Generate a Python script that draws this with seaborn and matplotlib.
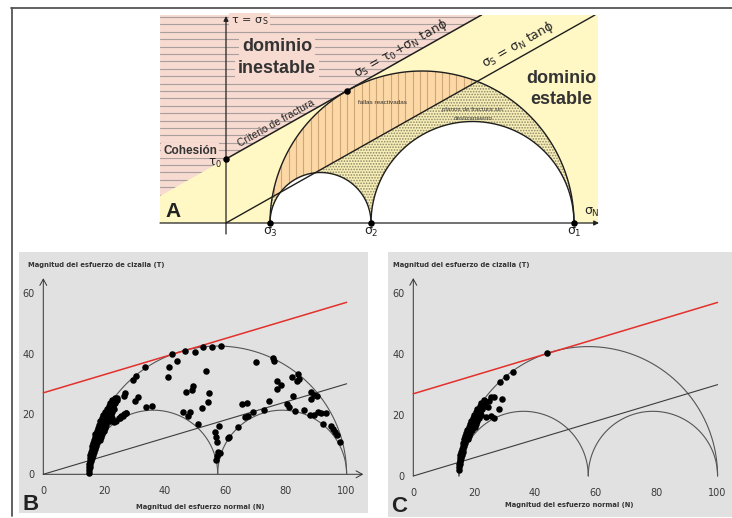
import numpy as np
import matplotlib
matplotlib.use("Agg")
import matplotlib.pyplot as plt
import seaborn as sns
from matplotlib.patches import Polygon, Rectangle
from matplotlib.lines import Line2D

# ---------------- data ----------------
# Schematic Mohr diagram (panel A), arbitrary stress units
sigmas_A = [44, 145, 348]          # sigma3, sigma2, sigma1
cohesion_A = 64                    # tau0

# Stress state used in panels B and C
sigmas_BC = [15, 57.5, 100]        # sigma3, sigma2, sigma1
cohesion_BC = 27                   # intercept of the fracture criterion
friction_BC = 0.3                  # tan(phi)

x_major = [0, 20, 40, 60, 80, 100]
x_minor = [10, 30, 50, 70, 90]
y_major = [0, 20, 40, 60]
y_minor = [10, 30, 50]

# normalised (sigma_N, tau) of every fault plane, panel B
b_cluster = [(15.0, 0.5), (15.1, 1.5), (15.15, 2.5), (15.4, 2.5), (15.2, 3.5), (15.5, 3.5),
             (15.3, 4.5), (15.7, 4.5), (15.4, 5.5), (15.9, 5.5), (15.5, 6.5), (16.0, 6.5),
             (16.5, 6.5), (15.7, 7.5), (16.3, 7.5), (16.8, 7.5), (15.9, 8.5), (16.5, 8.5),
             (17.1, 8.5), (16.1, 9.5), (16.7, 9.5), (17.4, 9.5), (16.3, 10.5), (17.0, 10.5),
             (17.7, 10.5), (16.6, 11.5), (17.3, 11.5), (18.0, 11.5), (18.6, 11.5), (16.9, 12.5),
             (17.6, 12.5), (18.3, 12.5), (19.0, 12.5), (17.2, 13.5), (17.9, 13.5), (18.7, 13.5),
             (19.4, 13.5), (17.6, 14.5), (18.3, 14.5), (19.1, 14.5), (19.9, 14.5), (18.0, 15.5),
             (18.7, 15.5), (19.5, 15.5), (20.3, 15.5), (18.4, 16.5), (19.2, 16.5), (20.0, 16.5),
             (20.8, 16.5), (18.8, 17.5), (19.6, 17.5), (20.4, 17.5), (21.2, 17.5), (22.0, 17.5),
             (19.3, 18.5), (20.1, 18.5), (20.9, 18.5), (21.7, 18.5), (22.5, 18.5), (19.8, 19.5),
             (20.6, 19.5), (21.4, 19.5), (22.2, 19.5), (20.3, 20.5), (21.1, 20.5), (21.9, 20.5),
             (22.7, 20.5), (20.9, 21.5), (21.7, 21.5), (22.5, 21.5), (23.3, 21.5), (21.5, 22.5),
             (22.3, 22.5), (23.1, 22.5), (22.1, 23.5), (22.9, 23.5), (23.7, 23.5), (22.8, 24.5),
             (23.6, 24.5), (24.4, 24.5), (23.5, 25.3), (24.3, 25.3),
             (23.2, 17.3), (24.0, 17.8), (24.8, 18.6), (25.6, 19.2), (26.5, 19.9), (27.3, 20.4)]
b_scatter = [(26.9, 27.1), (26.7, 26.0), (27.3, 20.2), (26.2, 19.3), (25.3, 18.6), (29.5, 31.3),
             (30.5, 32.6), (33.5, 35.5), (31.3, 25.7), (30.2, 24.4), (33.7, 22.2), (36.0, 22.7),
             (42.4, 39.9), (41.5, 35.5), (41.2, 32.2), (44.1, 37.7), (46.7, 41.0), (50.0, 40.7),
             (52.5, 42.1), (55.7, 42.3), (58.5, 42.5), (53.6, 34.3), (49.2, 29.3), (48.9, 28.0),
             (47.2, 27.4), (54.7, 26.9), (54.4, 23.8), (52.2, 22.0), (48.5, 20.8), (46.2, 20.6),
             (47.6, 19.4), (51.1, 16.7), (58.0, 16.1), (56.6, 14.1), (56.9, 12.5), (57.4, 10.8),
             (57.7, 7.5), (58.3, 6.9), (57.4, 6.0), (56.9, 4.8), (61.0, 11.9), (61.2, 12.5),
             (64.3, 15.6), (66.5, 18.9), (67.6, 19.3), (65.4, 23.3), (67.1, 23.7), (69.2, 20.7),
             (72.8, 21.3), (74.4, 24.4), (70.1, 37.3), (75.8, 38.4), (75.9, 37.7), (77.1, 30.9),
             (78.3, 29.6), (77.2, 28.2), (81.9, 32.4), (83.9, 33.1), (84.3, 31.7), (83.7, 31.0),
             (82.2, 26.1), (80.4, 23.3), (81.1, 22.3), (83.0, 21.1), (86.0, 21.3), (88.3, 27.4),
             (89.4, 26.3), (90.1, 26.1), (88.2, 24.8), (87.9, 19.7), (89.4, 19.7), (90.7, 20.8),
             (91.5, 20.2), (93.2, 20.4), (92.3, 16.7), (94.9, 16.0), (95.6, 14.9), (96.2, 14.1),
             (96.7, 13.0), (97.8, 10.8)]

# panel C: only the planes that reach the fracture envelope side
c_cluster = [(14.9, 2.0), (15.0, 3.0), (15.1, 4.0), (15.3, 4.0), (15.2, 5.0), (15.5, 5.0),
             (15.3, 6.0), (15.7, 6.0), (15.5, 7.0), (16.0, 7.0), (15.7, 8.0), (16.3, 8.0),
             (15.9, 9.0), (16.5, 9.0), (16.2, 10.0), (16.8, 10.0), (16.4, 11.0), (17.1, 11.0),
             (16.7, 12.0), (17.4, 12.0), (18.0, 12.0), (17.0, 13.0), (17.7, 13.0), (18.4, 13.0),
             (17.4, 14.0), (18.1, 14.0), (18.8, 14.0), (17.8, 15.0), (18.5, 15.0), (19.2, 15.0),
             (18.2, 16.0), (18.9, 16.0), (19.6, 16.0), (20.3, 16.0), (18.6, 17.0), (19.3, 17.0),
             (20.0, 17.0), (20.7, 17.0), (19.0, 18.0), (19.7, 18.0), (20.4, 18.0), (21.1, 18.0),
             (19.5, 19.0), (20.2, 19.0), (20.9, 19.0), (21.6, 19.0), (20.0, 20.0), (20.7, 20.0),
             (21.4, 20.0), (22.1, 20.0), (20.6, 21.0), (21.3, 21.0), (22.0, 21.0), (21.1, 22.0),
             (21.8, 22.0), (22.5, 22.0), (21.8, 23.0), (22.6, 23.0), (22.4, 24.0), (23.2, 24.0),
             (23.5, 24.4), (23.1, 25.0)]
c_scatter = [(44.1, 40.3), (32.9, 34.2), (30.4, 32.6), (28.5, 30.8), (29.0, 25.2), (28.3, 21.9),
             (26.5, 18.9), (25.7, 19.8), (26.5, 26.1), (25.4, 26.1), (24.6, 22.8), (23.5, 23.0),
             (24.0, 19.5), (25.0, 24.5)]

# ---------------- style ----------------
sns.set_style("white")
plt.rcParams["font.family"] = ["DejaVu Sans"]
plt.rcParams["mathtext.fontset"] = "custom"
plt.rcParams["mathtext.rm"] = "DejaVu Sans"
plt.rcParams["mathtext.it"] = "DejaVu Sans"
plt.rcParams["mathtext.bf"] = "DejaVu Sans:bold"
plt.rcParams["hatch.linewidth"] = 0.8

W, H = 732, 518
fig = plt.figure(figsize=(W / 100, H / 100), dpi=100)
fig.patch.set_facecolor("white")


def frac_box(x0, y0, x1, y1):
    """pixel box (top-left / bottom-right) -> figure fraction rect"""
    return [x0 / W, 1 - y1 / H, (x1 - x0) / W, (y1 - y0) / H]


def upper_arc(a, b, start=np.pi, stop=0.0, n=240):
    c, r = (a + b) / 2, (b - a) / 2
    th = np.linspace(start, stop, n)
    return c + r * np.cos(th), r * np.sin(th)


def arc_height(a, b, x):
    c, r = (a + b) / 2, (b - a) / 2
    return np.sqrt(np.clip(r ** 2 - (x - c) ** 2, 0, None))


# frame lines of the composite
fig.add_artist(Line2D([11 / W, 1], [1 - 8 / H] * 2, transform=fig.transFigure,
                      color="#555555", lw=1.3))
fig.add_artist(Line2D([12 / W] * 2, [1 - 8 / H, 1 - 516 / H], transform=fig.transFigure,
                      color="#555555", lw=1.3))

# ================= panel A =================
axA = fig.add_axes(frac_box(158, 15, 600, 240))
axA.set_xlim(-68, 374)
axA.set_ylim(-17, 208)
axA.axis("off")

s3, s2, s1 = sigmas_A
t0 = cohesion_A
cA, rA = (s1 + s3) / 2, (s1 - s3) / 2
qa = cA ** 2 - rA ** 2
m = (-t0 * cA + np.sqrt((t0 * cA) ** 2 - qa * (t0 ** 2 - rA ** 2))) / qa
phi = np.arctan(m)
ang = np.degrees(phi)
st, tt = cA - rA * np.sin(phi), rA * np.cos(phi)

XL, XR, YT = -66, 372, 208
PINK, YELLOW, ORANGE = "#f7dad0", "#fff7c4", "#fbd8a6"

axA.add_patch(Rectangle((XL, 0), XR - XL, YT, facecolor=YELLOW, lw=0, zorder=0))
x_top = (YT - t0) / m
pink = Polygon([(XL, t0 + m * XL), (XL, YT), (x_top, YT)], closed=True,
               facecolor=PINK, lw=0, zorder=1)
axA.add_patch(pink)
for yy in np.arange(206, 0, -7.4):
    ln, = axA.plot([XL, XR], [yy, yy], color="#a9a09d", lw=0.8, zorder=1.5)
    ln.set_clip_path(pink)

# region enclosed by the three circles
bx, by = upper_arc(s3, s1)
sx2, sy2 = upper_arc(s2, s1, 0.0, np.pi)
sx1, sy1 = upper_arc(s3, s2, 0.0, np.pi)
region = np.column_stack([np.r_[bx, sx2, sx1], np.r_[by, sy2, sy1]])
dotted = Polygon(region, closed=True, facecolor="#f8efb8", edgecolor="#8c8666",
                 hatch="......", lw=0, zorder=2)
axA.add_patch(dotted)
orange = Polygon(region, closed=True, facecolor=ORANGE, lw=0, zorder=2.1)
axA.add_patch(orange)
above = Polygon([(-70, -70 * m), (380, 380 * m), (380, 400), (-70, 400)], closed=True,
                transform=axA.transData)
orange.set_clip_path(above)
for xv in np.arange(s3 + 4, s1, 7.3):
    top = arc_height(s3, s1, xv)
    low = max(m * xv, arc_height(s3, s2, xv) if xv <= s2 else arc_height(s2, s1, xv))
    if top > low:
        axA.plot([xv, xv], [low, top], color="#cfa676", lw=0.8, zorder=2.2)

for a, b in [(s3, s2), (s2, s1)]:
    xx, yy = upper_arc(a, b)
    axA.fill_between(xx, 0, yy, color="white", lw=0, zorder=2.5)
    axA.plot(xx, yy, color="#1e1e1e", lw=1.0, zorder=3)
axA.plot(bx, by, color="#1e1e1e", lw=1.0, zorder=3)

axA.plot([0, x_top], [t0, YT], color="#1e1e1e", lw=1.1, zorder=3.2)
x_end = min(XR, YT / m)
axA.plot([0, x_end], [0, m * x_end], color="#1e1e1e", lw=1.0, zorder=3.2)

arrow_kw = dict(arrowstyle="-|>", lw=0.9, color="#222222", mutation_scale=7,
                shrinkA=0, shrinkB=0)
axA.annotate("", xy=(XR + 1, 0), xytext=(XL, 0), arrowprops=arrow_kw, zorder=4)
axA.annotate("", xy=(0, 207), xytext=(0, -11), arrowprops=arrow_kw, zorder=4)

dots_A = [(0, t0), (st, tt), (s3, 0), (s2, 0), (s1, 0)]
sns.scatterplot(x=[p[0] for p in dots_A], y=[p[1] for p in dots_A], ax=axA,
                color="black", s=22, linewidth=0, zorder=5)

lib = ["Liberation Sans", "DejaVu Sans"]
pink_box = dict(boxstyle="square,pad=0.15", facecolor=PINK, lw=0)
for txt, y in [("dominio", 176.3), ("inestable", 154.7)]:
    axA.text(51, y, txt, family=lib, weight="bold", fontsize=13, color="#333333",
             ha="center", va="center", bbox=pink_box, zorder=6)
for txt, y in [("dominio", 144.7), ("estable", 124.0)]:
    axA.text(335, y, txt, family=lib, weight="bold", fontsize=13, color="#333333",
             ha="center", va="center", zorder=6)
axA.text(-36, 72.3, "Cohesión", family=lib, weight="bold", fontsize=8.5, color="#333333",
         ha="center", va="center", bbox=pink_box, zorder=6)
axA.text(-4, 60, r"$\tau_0$", fontsize=8.5, color="#222222", ha="right", va="center", zorder=6)
axA.text(5, 202.3, r"$\tau\,=\,\sigma_S$", fontsize=8, color="#222222", ha="left",
         va="center", bbox=pink_box, zorder=6)
axA.text(157, 120.3, "fallas reactivadas", family=lib, fontsize=4.6, color="#333333",
         ha="center", va="center", zorder=6)
axA.text(246, 113, "planos de fractura sin", family=lib, fontsize=4.6, color="#444444",
         ha="center", va="center", zorder=6)
axA.text(247, 104.7, "deslizamiento", family=lib, fontsize=4.6, color="#444444",
         ha="center", va="center", zorder=6)
axA.text(-61, 2, "A", family=lib, weight="bold", fontsize=15, color="#222222",
         ha="left", va="bottom", zorder=6)
for sv, lab in zip(sigmas_A, [r"$\sigma_3$", r"$\sigma_2$", r"$\sigma_1$"]):
    axA.text(sv, -3, lab, fontsize=9, color="#222222", ha="center", va="top", zorder=6)
axA.text(366, 4, r"$\sigma_N$", fontsize=9, color="#222222", ha="center", va="bottom", zorder=6)


def along(x, t_int, d):
    y = t_int + m * x
    return x - d * np.sin(phi), y + d * np.cos(phi)


px_, py_ = along(180, t0, 2)
axA.text(px_, py_, r"$\sigma_S$ = $\tau_0\!+\!\sigma_N$ tan$\phi$", fontsize=9,
         color="#222222", rotation=ang, rotation_mode="anchor", ha="center", va="bottom", zorder=6)
px_, py_ = along(53, t0, 1.5)
axA.text(px_, py_, "Criterio de fractura", family=lib, fontsize=7.5, color="#222222",
         rotation=ang, rotation_mode="anchor", ha="center", va="bottom", zorder=6)
px_, py_ = along(298, 0, 3)
axA.text(px_, py_, r"$\sigma_S$ = $\sigma_N$ tan$\phi$", fontsize=9, color="#222222",
         rotation=ang, rotation_mode="anchor", ha="center", va="bottom", zorder=6)


# ================= panels B and C =================
def stress_panel(box, xlim, ylim, cluster, scatter):
    ax = fig.add_axes(frac_box(*box))
    ax.set_facecolor("#e1e1e1")
    ax.set_xlim(*xlim)
    ax.set_ylim(*ylim)
    for side in ["top", "right"]:
        ax.spines[side].set_visible(False)
    for side in ["left", "bottom"]:
        ax.spines[side].set_position(("data", 0))
        ax.spines[side].set_color("none")
    ax.set_xticks(x_major)
    ax.set_xticks(x_minor, minor=True)
    ax.set_yticks(y_major)
    ax.set_yticks(y_minor, minor=True)
    ax.tick_params(which="major", length=4.3, width=0.7, color="#333333",
                   labelsize=7, labelcolor="#3a3a3a")
    ax.tick_params(which="minor", length=2.3, width=0.7, color="#333333")
    ax.tick_params(axis="x", which="major", pad=4)
    ax.tick_params(axis="y", which="major", pad=2)
    ax.set_xlabel("")
    ax.set_ylabel("")

    chevron = dict(arrowstyle="->,head_length=0.45,head_width=0.25", lw=0.7,
                   color="#333333", shrinkA=0, shrinkB=0)
    ax.annotate("", xy=(105.5, 0), xytext=(0, 0), arrowprops=chevron, zorder=1)
    ax.annotate("", xy=(0, 65), xytext=(0, 0), arrowprops=chevron, zorder=1)

    a3, a2, a1 = sigmas_BC
    for a, b in [(a3, a1), (a3, a2), (a2, a1)]:
        xx, yy = upper_arc(a, b)
        ax.plot(xx, yy, color="#555555", lw=0.8, zorder=2)
    xs = np.array([0, 100])
    ax.plot(xs, friction_BC * xs, color="#3c3c3c", lw=0.8, zorder=2)
    ax.plot(xs, cohesion_BC + friction_BC * xs, color="#e3302b", lw=1.1, zorder=2)

    pts = cluster + scatter
    sns.scatterplot(x=[p[0] for p in pts], y=[p[1] for p in pts], ax=ax,
                    color="black", s=22, linewidth=0, zorder=3)
    return ax


stress_panel((19, 252, 368, 513), (-8.01, 107.05), (-12.83, 73.68), b_cluster, b_scatter)
stress_panel((388, 252, 732, 517), (-8.31, 104.74), (-13.46, 73.56), c_cluster, c_scatter)

title_kw = dict(fontsize=4.9, weight="bold", color="#333333", va="center")
fig.text(27.5 / W, 1 - 265 / H, "Magnitud del esfuerzo de cizalla (T)", ha="left", **title_kw)
fig.text(393 / W, 1 - 265 / H, "Magnitud del esfuerzo de cizalla (T)", ha="left", **title_kw)
fig.text(200 / W, 1 - 507 / H, "Magnitud del esfuerzo normal (N)", ha="center", **title_kw)
fig.text(569 / W, 1 - 505 / H, "Magnitud del esfuerzo normal (N)", ha="center", **title_kw)
fig.text(22 / W, 1 - 510 / H, "B", family=lib, weight="bold", fontsize=16, color="#222222",
         ha="left", va="baseline")
fig.text(391 / W, 1 - 512 / H, "C", family=lib, weight="bold", fontsize=16, color="#222222",
         ha="left", va="baseline")

fig.savefig("out.png", dpi=100, facecolor="white")
